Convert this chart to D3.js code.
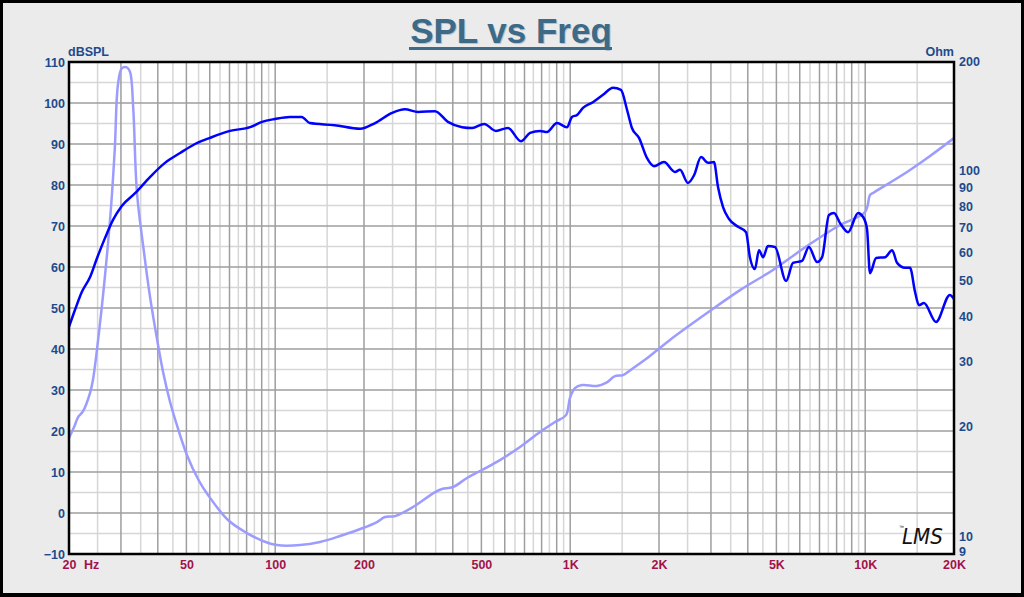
<!DOCTYPE html>
<html>
<head>
<meta charset="utf-8">
<script src="https://cdn.jsdelivr.net/npm/d3@7"></script>
<style>
  html, body { margin: 0; padding: 0; background: #000; }
  svg { display: block; }
</style>
</head>
<body>
<svg id="chart" width="1024" height="597"></svg>
<script>
// ---------------- DATA ----------------
const splFreq = [20, 20.95, 22.1, 23.6, 24.9, 26.5, 28.2, 30.2, 33.5, 37.7, 42.3, 47.6, 53.5, 60.1, 70.3, 82.2, 90.2, 99.8, 112, 123, 131, 159, 194, 218, 249, 275, 305, 348, 385, 430, 465, 511, 560, 615, 681, 731, 790, 834, 902, 975, 1014, 1055, 1105, 1194, 1292, 1397, 1486, 1559, 1619, 1711, 1820, 1923, 2079, 2266, 2356, 2507, 2630, 2776, 2933, 3071, 3170, 3297, 3455, 3707, 3945, 4066, 4228, 4365, 4508, 4678, 4943, 5396, 5692, 6108, 6443, 6870, 7144, 7536, 7837, 8218, 8750, 9464, 9840, 10142, 10380, 10890, 11680, 12340, 12830, 13650, 14190, 14760, 15210, 15820, 17380, 19370, 20000];
const splDb = [45.4, 49.5, 53.9, 57.6, 62.2, 67.1, 71.5, 74.9, 78.0, 82.0, 85.4, 87.8, 90.0, 91.5, 93.2, 94.1, 95.4, 96.1, 96.6, 96.6, 95.1, 94.6, 93.7, 95.1, 97.6, 98.5, 97.8, 98.0, 95.4, 94.1, 93.9, 94.9, 93.2, 93.9, 90.7, 92.7, 93.2, 92.9, 95.1, 94.1, 96.6, 97.1, 98.8, 100.2, 102.0, 103.7, 103.2, 98.3, 93.9, 91.5, 86.6, 84.6, 85.6, 83.2, 83.7, 80.5, 82.4, 86.8, 85.4, 85.6, 79.5, 74.6, 71.7, 69.8, 68.5, 62.4, 59.5, 64.1, 62.4, 65.1, 64.9, 56.6, 61.0, 61.5, 64.9, 61.2, 62.4, 72.7, 73.2, 70.7, 68.5, 73.2, 72.2, 69.3, 58.5, 62.2, 62.4, 64.1, 61.0, 59.8, 59.8, 53.9, 50.7, 51.2, 46.6, 53.2, 52.2];

const impFreq = [20, 20.95, 21.45, 22.3, 23.56, 24.1, 25.5, 26.7, 27.8, 28.6, 29.3, 30.2, 31.4, 32.2, 33.0, 34.0, 35.9, 37.6, 39.8, 41.7, 44.0, 46.5, 50.2, 55.2, 59.2, 69.2, 80.2, 90.9, 101.4, 121.4, 141.9, 165.8, 198.4, 221.3, 235.5, 254.8, 293.1, 348.2, 367.7, 400.6, 446.9, 502.4, 578, 676, 790, 888, 968, 998, 1038, 1097, 1233, 1322, 1418, 1510, 1620, 1792, 2179, 2910, 3765, 4869, 6349, 8215, 9988, 10385, 10630, 13860, 16590, 20000];
const impOhm = [18.7, 20.3, 21.3, 22.1, 24.8, 26.9, 38.8, 55.6, 81.2, 116.3, 173, 192.2, 193.4, 188.1, 150.8, 87.6, 60.4, 45.8, 34.7, 28.3, 23.5, 20.2, 16.8, 14.26, 13.05, 11.15, 10.27, 9.77, 9.52, 9.52, 9.71, 10.08, 10.6, 11.01, 11.36, 11.43, 12.1, 13.3, 13.56, 13.73, 14.53, 15.28, 16.27, 17.67, 19.42, 20.68, 21.6, 24.06, 25.6, 26.1, 25.95, 26.45, 27.6, 27.8, 28.9, 30.6, 34.7, 41.1, 47.5, 53.9, 62.7, 71.6, 77.7, 86.5, 87.6, 100, 110.6, 123.8];

const dbTicks = [110, 100, 90, 80, 70, 60, 50, 40, 30, 20, 10, 0, -10];
const ohmTicks = [200, 100, 90, 80, 70, 60, 50, 40, 30, 20, 10, 9];
const freqTicks = [20, 50, 100, 200, 500, 1000, 2000, 5000, 10000, 20000];
const freqTickLabels = ["20", "50", "100", "200", "500", "1K", "2K", "5K", "10K", "20K"];

const titleText = "SPL vs Freq";
const leftUnit = "dBSPL";
const rightUnit = "Ohm";
const hzText = "Hz";

// ---------------- LAYOUT ----------------
const W = 1024, H = 597;
const L = 69, R = 954, T = 62, B = 554;
const font = "'Liberation Sans', Arial, Helvetica, sans-serif";
const blue = "#1d4a8c";
const crimson = "#a3124a";

const svg = d3.select("#chart");

// outer frame
svg.append("rect").attr("x", 0).attr("y", 0).attr("width", W).attr("height", H).attr("fill", "#000");
svg.append("rect").attr("x", 3).attr("y", 3).attr("width", W - 6).attr("height", H - 7).attr("fill", "#ebebeb");

// scales
const x = d3.scaleLog().domain([20, 20000]).range([L, R]);
const yDb = d3.scaleLinear().domain([-10, 110]).range([B, T]);
const yOhm = d3.scaleLog().domain([9, 200]).range([B, T]);

// plot background
svg.append("rect").attr("x", L).attr("y", T).attr("width", R - L).attr("height", B - T).attr("fill", "#fff");

// grid
const grid = svg.append("g");
const minorDb = d3.range(-5, 110, 10);
const majorDb = d3.range(0, 110, 10);
const majorF = [], minorF = [];
[10, 100, 1000, 10000].forEach(dec => {
  for (let n = 1; n <= 9; n++) {
    const f = n * dec, fm = (n + 0.5) * dec;
    if (f > 20 && f < 20000) majorF.push(f);
    if (fm > 20 && fm < 20000) minorF.push(fm);
  }
});
grid.selectAll(".hmin").data(minorDb).join("line")
  .attr("x1", L).attr("x2", R).attr("y1", d => yDb(d)).attr("y2", d => yDb(d))
  .attr("stroke", "#d6d6d6").attr("stroke-width", 1.5);
grid.selectAll(".vmin").data(minorF).join("line")
  .attr("y1", T).attr("y2", B).attr("x1", d => x(d)).attr("x2", d => x(d))
  .attr("stroke", "#d6d6d6").attr("stroke-width", 1.5);
grid.selectAll(".hmaj").data(majorDb).join("line")
  .attr("x1", L).attr("x2", R).attr("y1", d => yDb(d)).attr("y2", d => yDb(d))
  .attr("stroke", "#9e9e9e").attr("stroke-width", 1.5);
grid.selectAll(".vmaj").data(majorF).join("line")
  .attr("y1", T).attr("y2", B).attr("x1", d => x(d)).attr("x2", d => x(d))
  .attr("stroke", "#9e9e9e").attr("stroke-width", 1.5);

// clip
svg.append("clipPath").attr("id", "clip").append("rect")
  .attr("x", L).attr("y", T).attr("width", R - L).attr("height", B - T);

const curves = svg.append("g").attr("clip-path", "url(#clip)");
const impData = impFreq.map((f, i) => [f, impOhm[i]]);
const splData = splFreq.map((f, i) => [f, splDb[i]]);

curves.append("path").datum(impData)
  .attr("d", d3.line().x(d => x(d[0])).y(d => yOhm(d[1])).curve(d3.curveCatmullRom.alpha(0.5)))
  .attr("fill", "none").attr("stroke", "#9c9cff").attr("stroke-width", 2.5).attr("stroke-linejoin", "round");
curves.append("path").datum(splData)
  .attr("d", d3.line().x(d => x(d[0])).y(d => yDb(d[1])).curve(d3.curveMonotoneX))
  .attr("fill", "none").attr("stroke", "#0000ff").attr("stroke-width", 2.5).attr("stroke-linejoin", "round");

// plot frame
svg.append("rect").attr("x", L).attr("y", T).attr("width", R - L).attr("height", B - T)
  .attr("fill", "none").attr("stroke", "#000").attr("stroke-width", 2.5);

// axes
function styleAxis(g, color) {
  g.select(".domain").remove();
  g.selectAll("line").remove();
  g.selectAll("text").attr("font-family", font).attr("font-size", 12.5)
    .attr("font-weight", "bold").attr("fill", color);
}
svg.append("g").attr("transform", `translate(${L},0)`)
  .call(d3.axisLeft(yDb).tickValues(dbTicks).tickSize(0).tickPadding(4).tickFormat(d3.format("d")))
  .call(g => styleAxis(g, blue));
svg.append("g").attr("transform", `translate(${R},0)`)
  .call(d3.axisRight(yOhm).tickValues(ohmTicks).tickSize(0).tickPadding(5).tickFormat(d3.format("d")))
  .call(g => styleAxis(g, blue))
  .call(g => g.selectAll("text").attr("dy", d => d === 9 ? "0.12em" : "0.24em"));
svg.append("g").attr("transform", `translate(0,${B})`)
  .call(d3.axisBottom(x).tickValues(freqTicks).tickSize(0).tickPadding(6).tickFormat((d, i) => freqTickLabels[i]))
  .call(g => styleAxis(g, crimson));

svg.append("text").attr("x", 84).attr("y", B + 15).text(hzText)
  .attr("font-family", font).attr("font-size", 12.5).attr("font-weight", "bold").attr("fill", crimson);

// unit labels
svg.append("text").attr("x", 68).attr("y", 56).text(leftUnit)
  .attr("font-family", font).attr("font-size", 12.5).attr("font-weight", "bold").attr("fill", blue);
svg.append("text").attr("x", 954).attr("y", 56).attr("text-anchor", "end").text(rightUnit)
  .attr("font-family", font).attr("font-size", 12.5).attr("font-weight", "bold").attr("fill", blue);

// title
const tx = 511;
svg.append("text").attr("x", tx + 1).attr("y", 44).attr("text-anchor", "middle").text(titleText)
  .attr("font-family", font).attr("font-size", 35).attr("font-weight", "bold").attr("fill", "#b9c4cc");
svg.append("text").attr("x", tx).attr("y", 43).attr("text-anchor", "middle").text(titleText)
  .attr("font-family", font).attr("font-size", 35).attr("font-weight", "bold").attr("fill", "#3d6a87");
svg.append("line").attr("x1", 409).attr("x2", 612).attr("y1", 48.5).attr("y2", 48.5)
  .attr("stroke", "#3d6a87").attr("stroke-width", 3);

// LMS logo
svg.append("text").attr("x", 902).attr("y", 544).text("LMS")
  .attr("font-family", "'DejaVu Sans', sans-serif").attr("font-size", 21).attr("font-style", "italic")
  .attr("font-weight", "normal").attr("fill", "#111").attr("textLength", 41).attr("lengthAdjust", "spacingAndGlyphs");
svg.append("text").attr("x", 899).attr("y", 529).text("™")
  .attr("font-family", font).attr("font-size", 5).attr("fill", "#111");
</script>
</body>
</html>
